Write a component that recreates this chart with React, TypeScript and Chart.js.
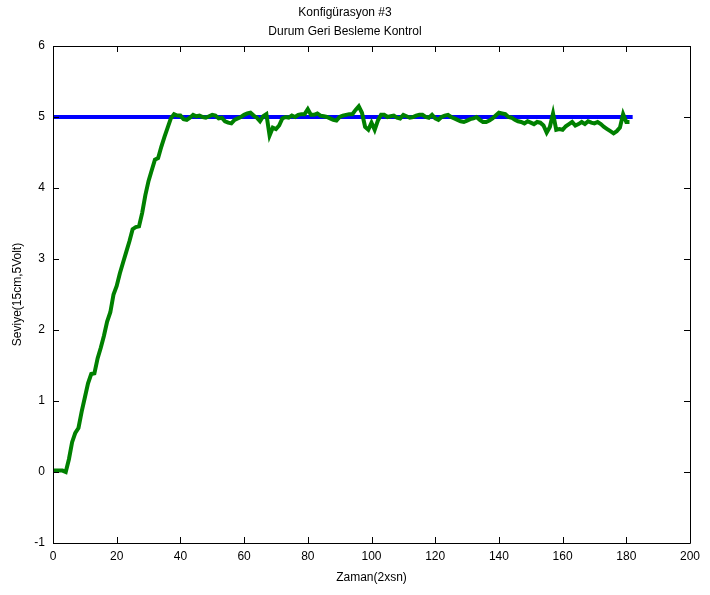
import React, { useEffect, useRef } from "react";
import { Chart, registerables } from "chart.js";

Chart.register(...registerables);

const titleLines = ["Konfigürasyon #3", "Durum Geri Besleme Kontrol"];
const xTitle = "Zaman(2xsn)";
const yTitle = "Seviye(15cm,5Volt)";

// reference (setpoint) line
const refX = [0, 182];
const refY = [5, 5];

// measured level, one sample per time step starting at 0
const level = [
  0.02, 0.02, 0.02, 0.02, 0.0, 0.18, 0.42, 0.55, 0.62, 0.85,
  1.05, 1.25, 1.38, 1.39, 1.6, 1.75, 1.92, 2.12, 2.25, 2.5,
  2.62, 2.8, 2.95, 3.1, 3.25, 3.42, 3.45, 3.46, 3.65, 3.9,
  4.1, 4.25, 4.4, 4.42, 4.58, 4.72, 4.85, 4.98, 5.04, 5.02,
  5.02, 4.97, 4.96, 4.99, 5.03, 5.01, 5.02, 5.0, 4.99, 5.01,
  5.03, 5.02, 4.98, 4.99, 4.94, 4.92, 4.91, 4.96, 4.98, 5.0,
  5.03, 5.05, 5.06, 5.02, 4.99, 4.94, 5.01, 5.04, 4.74, 4.85,
  4.83, 4.88, 4.98, 5.0, 4.99, 5.02, 5.0, 5.03, 5.04, 5.04,
  5.11, 5.03, 5.03, 5.05, 5.02, 5.01, 5.0, 4.98, 4.96, 4.95,
  5.0, 5.02, 5.03, 5.04, 5.04, 5.1, 5.15, 5.06, 4.86, 4.82,
  4.92, 4.82, 4.95, 5.03, 5.03, 5.0, 5.01, 5.02, 4.99, 4.98,
  5.03, 5.01, 4.99, 5.0, 5.02, 5.03, 5.03, 5.0, 4.99, 5.03,
  4.98, 4.96, 5.0, 5.02, 5.03, 5.0, 4.98, 4.96, 4.94, 4.93,
  4.95, 4.97, 4.98, 5.0, 4.96, 4.93, 4.93, 4.95, 4.98, 5.02,
  5.06, 5.05, 5.04, 5.0, 4.99, 4.96, 4.94, 4.93, 4.91, 4.94,
  4.92, 4.9, 4.93, 4.92, 4.88, 4.78, 4.86, 5.05, 4.82, 4.83,
  4.82, 4.87, 4.9, 4.93, 4.88, 4.9, 4.93, 4.9, 4.94, 4.92,
  4.91, 4.93, 4.9, 4.86, 4.83, 4.8, 4.77, 4.8, 4.85, 5.04,
  4.93, 4.93,
];

const xMin = 0, xMax = 200, xStep = 20;
const yMin = -1, yMax = 6, yStep = 1;

const FONT = "Liberation Sans, Arial, Helvetica, sans-serif";

const boxPlugin = {
  id: "matlabBox",
  afterDatasetsDraw(chart: any) {
    const { ctx, chartArea: a, scales } = chart;
    const len = 6;
    ctx.save();
    ctx.strokeStyle = "#000";
    ctx.lineWidth = 1;
    ctx.beginPath();
    ctx.rect(Math.round(a.left) + 0.5, Math.round(a.top) + 0.5, Math.round(a.right - a.left), Math.round(a.bottom - a.top));
    scales.x.ticks.forEach((t: any) => {
      const px = Math.round(scales.x.getPixelForValue(t.value)) + 0.5;
      ctx.moveTo(px, a.bottom);
      ctx.lineTo(px, a.bottom - len);
      ctx.moveTo(px, a.top);
      ctx.lineTo(px, a.top + len);
    });
    scales.y.ticks.forEach((t: any) => {
      const py = Math.round(scales.y.getPixelForValue(t.value)) + 0.5;
      ctx.moveTo(a.left, py);
      ctx.lineTo(a.left + len, py);
      ctx.moveTo(a.right, py);
      ctx.lineTo(a.right - len, py);
    });
    ctx.stroke();
    ctx.restore();
  },
};

export default function App() {
  const ref = useRef<HTMLCanvasElement>(null);
  useEffect(() => {
    const chart = new Chart(ref.current!, {
      type: "line",
      data: {
        datasets: [
          {
            label: "Seviye",
            data: level.map((v, i) => ({ x: i, y: v })),
            borderColor: "#008000",
            borderWidth: 4,
            pointRadius: 0,
            tension: 0,
            fill: false,
          },
          {
            label: "Referans",
            data: refX.map((x, i) => ({ x, y: refY[i] })),
            borderColor: "#0000ff",
            borderWidth: 4,
            pointRadius: 0,
            tension: 0,
            fill: false,
          },
        ],
      },
      options: {
        animation: false,
        responsive: false,
        maintainAspectRatio: false,
        layout: { padding: { left: 0, right: 20, top: 0, bottom: 0 } },
        plugins: {
          legend: { display: false },
          tooltip: { enabled: false },
          title: {
            display: true,
            text: titleLines,
            color: "#000",
            font: { family: FONT, size: 12, weight: "normal", lineHeight: 19 / 12 },
            padding: { top: 3, bottom: 5 },
          },
        },
        scales: {
          x: {
            type: "linear",
            min: xMin,
            max: xMax,
            grid: { display: false, drawTicks: false },
            border: { display: false },
            ticks: { stepSize: xStep, color: "#000", font: { family: FONT, size: 12 }, padding: 6, maxRotation: 0 },
            title: { display: true, text: xTitle, color: "#000", font: { family: FONT, size: 12 }, padding: { top: 0, bottom: 10 } },
            afterFit: (s: any) => { s.height = 52; },
          },
          y: {
            type: "linear",
            min: yMin,
            max: yMax,
            grid: { display: false, drawTicks: false },
            border: { display: false },
            ticks: { stepSize: yStep, color: "#000", font: { family: FONT, size: 12 }, padding: 8 },
            title: { display: true, text: yTitle, color: "#000", font: { family: FONT, size: 12 }, padding: { top: 10, bottom: 0 } },
            afterFit: (s: any) => { s.width = 53; },
          },
        },
      },
      plugins: [boxPlugin],
    });
    return () => chart.destroy();
  }, []);
  return (
    <div style={{ position: "fixed", left: 0, top: 0, width: 710, height: 595, background: "#fff" }}>
      <canvas ref={ref} width={710} height={595} style={{ display: "block" }} />
    </div>
  );
}
